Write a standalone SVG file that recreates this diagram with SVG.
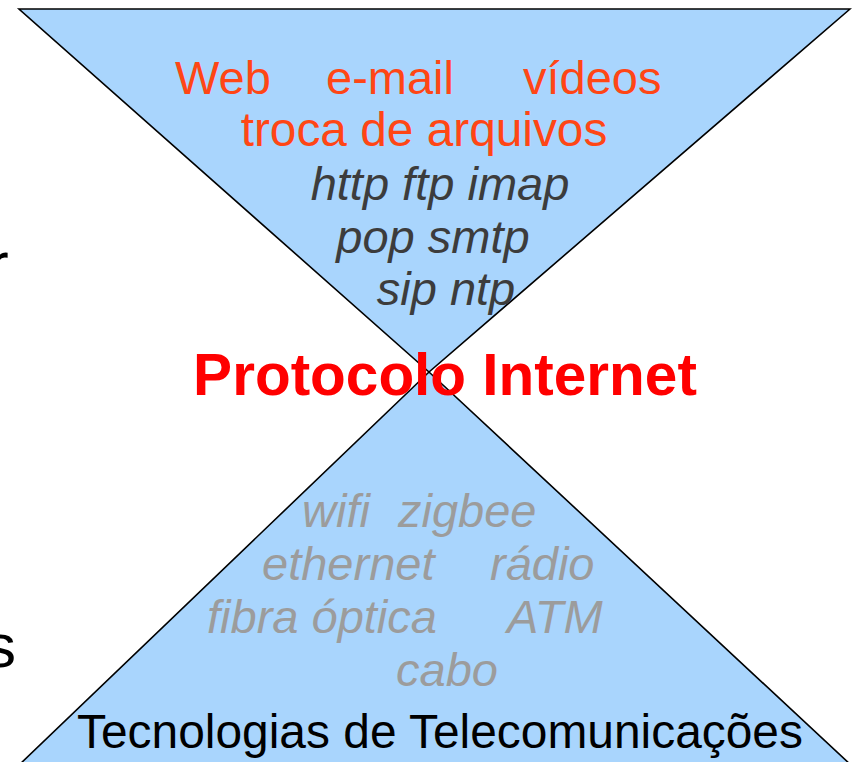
<svg xmlns="http://www.w3.org/2000/svg" width="852" height="762" viewBox="0 0 852 762">
<style>
.tri{fill:#a9d5fd;stroke:#000;stroke-width:1.6;stroke-linejoin:miter}
text{font-family:"Liberation Sans",Arial,sans-serif;font-size:47px}
.app{fill:#ff4615}
.proto{fill:#3c3c3c;font-style:italic;text-anchor:middle}
.tech{fill:#9c9c9c;font-style:italic}
.title{fill:#ff0000;font-weight:bold;font-size:58.5px;text-anchor:middle}
.base{fill:#000}
</style>
<rect width="852" height="762" fill="#fff"/>
<g id="top-triangle">
<polygon class="tri" points="19,9 850,9 429,372"/>
</g>
<g id="bottom-triangle">
<polygon class="tri" points="429,372 18,766 852,766"/>
</g>
<g id="connectors"></g>
<g id="edge-text">
<text class="base" x="-12" y="285" style="font-size:62px">r</text>
<text class="base" x="-15" y="667" style="font-size:62px">s</text>
</g>
<g id="applications">
<text class="app" x="175" y="94">Web</text>
<text class="app" x="326" y="94">e-mail</text>
<text class="app" x="523" y="94">vídeos</text>
<text class="app" x="424" y="146" text-anchor="middle" style="font-size:47.8px">troca de arquivos</text>
</g>
<g id="protocols">
<text class="proto" x="440" y="200">http ftp imap</text>
<text class="proto" x="433" y="253">pop smtp</text>
<text class="proto" x="446" y="305">sip ntp</text>
</g>
<g id="internet-protocol">
<text class="title" x="445" y="395">Protocolo Internet</text>
</g>
<g id="technologies">
<text class="tech" x="302" y="527">wifi</text>
<text class="tech" x="398" y="527">zigbee</text>
<text class="tech" x="262" y="580">ethernet</text>
<text class="tech" x="490" y="580">rádio</text>
<text class="tech" x="207" y="633">fibra óptica</text>
<text class="tech" x="507" y="633">ATM</text>
<text class="tech" x="396" y="686">cabo</text>
</g>
<g id="telecom">
<text class="base" x="440" y="748" text-anchor="middle" style="font-size:47.9px">Tecnologias de Telecomunicações</text>
</g>
</svg>
